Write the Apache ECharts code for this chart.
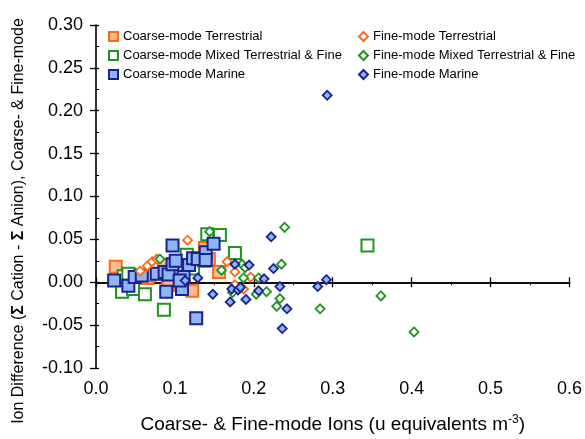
<!DOCTYPE html>
<html>
<head>
<meta charset="utf-8">
<script src="https://cdn.jsdelivr.net/npm/echarts@6/dist/echarts.min.js"></script>
<style>
  html, body { margin: 0; padding: 0; background: #fff; }
  #chart { width: 585px; height: 439px; }
</style>
</head>
<body>
<div id="chart"></div>
<script>
// Ion balance: [total ions (u equiv m^-3), cation - anion difference]
const coarseTerrestrial = [
  [0.025, 0.018], [0.065, 0.005], [0.068, 0.008], [0.086, 0.020], [0.091, 0.003],
  [0.092, -0.003], [0.103, 0.017], [0.122, -0.010], [0.138, 0.040], [0.143, 0.027],
  [0.156, 0.012]
];
const coarseMixed = [
  [0.033, -0.011], [0.035, 0.007], [0.041, 0.010], [0.047, -0.008], [0.062, -0.014],
  [0.086, -0.032], [0.101, 0.017], [0.115, 0.032], [0.123, 0.016], [0.137, 0.025],
  [0.141, 0.056], [0.157, 0.055], [0.176, 0.034], [0.344, 0.043]
];
const coarseMarine = [
  [0.023, 0.002], [0.041, -0.004], [0.049, 0.006], [0.058, 0.008], [0.077, 0.010],
  [0.087, 0.012], [0.092, 0.009], [0.089, -0.011], [0.097, 0.043], [0.097, 0.021],
  [0.101, 0.025], [0.109, -0.008], [0.111, 0.006], [0.106, 0.002], [0.118, 0.020],
  [0.123, 0.028], [0.129, 0.027], [0.139, 0.035], [0.149, 0.045], [0.127, -0.042],
  [0.139, 0.026]
];
const fineTerrestrial = [
  [0.056, 0.013], [0.065, 0.019], [0.071, 0.024], [0.077, 0.027], [0.116, 0.049],
  [0.166, 0.024], [0.176, 0.012], [0.176, -0.003], [0.187, -0.008], [0.196, 0.006]
];
const fineMixed = [
  [0.081, 0.027], [0.144, 0.059], [0.159, 0.014], [0.185, 0.021], [0.189, 0.017],
  [0.187, 0.005], [0.206, 0.005], [0.173, -0.012], [0.203, -0.014], [0.216, -0.011],
  [0.235, 0.021], [0.239, 0.064], [0.233, -0.019], [0.229, -0.028], [0.284, -0.031],
  [0.361, -0.016], [0.403, -0.058]
];
const fineMarine = [
  [0.113, 0.002], [0.129, 0.005], [0.148, -0.014], [0.170, -0.023], [0.176, 0.021],
  [0.194, 0.020], [0.172, -0.008], [0.180, -0.009], [0.183, -0.006], [0.190, -0.020],
  [0.206, -0.010], [0.213, 0.004], [0.222, 0.053], [0.225, 0.016], [0.233, -0.005],
  [0.242, -0.031], [0.236, -0.054], [0.281, -0.005], [0.292, 0.003], [0.293, 0.218]
];

const coarseNames = ['Coarse-mode Terrestrial', 'Coarse-mode Mixed Terrestrial & Fine', 'Coarse-mode Marine'];
const fineNames = ['Fine-mode Terrestrial', 'Fine-mode Mixed Terrestrial & Fine', 'Fine-mode Marine'];

const FONT = '"Liberation Sans", Arial, sans-serif';
const ORANGE = '#FF6A14', ORANGE_FILL = '#FFBA8C';
const GREEN = '#1E941E';
const NAVY = '#1C2090', BLUE_FILL = '#8DB6F2';

const xRange = { type: 'value', min: 0, max: 0.6, interval: 0.1 };
const yRange = { type: 'value', min: -0.1, max: 0.3, interval: 0.05 };

function square(name, data, fill, border) {
  return {
    name, type: 'scatter', data, symbol: 'rect', symbolSize: 12,
    itemStyle: { color: fill, borderColor: border, borderWidth: 2, opacity: 1 }
  };
}
function diamond(name, data, fill, border) {
  return {
    name, type: 'scatter', data, symbol: 'diamond', symbolSize: 9,
    itemStyle: { color: fill, borderColor: border, borderWidth: 1.8, opacity: 1 }
  };
}

const chart = echarts.init(document.getElementById('chart'));
chart.setOption({
  animation: false,
  backgroundColor: '#fff',
  grid: { left: 96, right: 15, top: 25, bottom: 68 },
  legend: [
    {
      data: coarseNames, left: 108, top: 30, orient: 'vertical', padding: 0,
      itemGap: 6, itemWidth: 9, itemHeight: 9,
      textStyle: { fontSize: 13, fontFamily: FONT, color: '#000' }
    },
    {
      data: fineNames, left: 358, top: 30, orient: 'vertical', padding: 0,
      itemGap: 6, itemWidth: 9, itemHeight: 9,
      textStyle: { fontSize: 13, fontFamily: FONT, color: '#000' }
    }
  ],
  xAxis: [
    // tick labels and title along the bottom
    Object.assign({}, xRange, {
      position: 'bottom',
      axisLine: { show: false, onZero: false },
      axisTick: { show: false },
      splitLine: { show: false },
      axisLabel: { fontSize: 18, fontFamily: FONT, color: '#000', margin: 12,
                   formatter: v => v.toFixed(1) },
      name: 'Coarse- & Fine-mode Ions (u equivalents m{sup|-3})',
      nameLocation: 'middle', nameGap: 46,
      nameTextStyle: {
        fontSize: 19, fontFamily: FONT, color: '#000',
        rich: { sup: { fontSize: 12, fontFamily: FONT, color: '#000', verticalAlign: 'bottom', padding: [0, 0, 9, 0] } }
      }
    }),
    // zero line with downward ticks
    Object.assign({}, xRange, {
      position: 'bottom',
      axisLine: { show: true, onZero: true, onZeroAxisIndex: 0, lineStyle: { color: '#000', width: 1.6 } },
      axisTick: { show: true, length: 5, lineStyle: { color: '#000', width: 1.3 } },
      minorTick: { show: true, splitNumber: 2, length: 3, lineStyle: { color: '#000', width: 1 } },
      axisLabel: { show: false },
      splitLine: { show: false }
    }),
    // upward half of the major ticks
    Object.assign({}, xRange, {
      position: 'bottom',
      axisLine: { show: true, onZero: true, onZeroAxisIndex: 0, lineStyle: { color: '#000', width: 1.6 } },
      axisTick: { show: true, inside: true, length: 5, lineStyle: { color: '#000', width: 1.3 } },
      axisLabel: { show: false },
      splitLine: { show: false }
    })
  ],
  yAxis: [
    Object.assign({}, yRange, {
      position: 'left',
      axisLine: { show: true, onZero: false, lineStyle: { color: '#000', width: 1.6 } },
      axisTick: { show: true, length: 6, lineStyle: { color: '#000', width: 1.3 } },
      axisLabel: { fontSize: 18, fontFamily: FONT, color: '#000', margin: 13,
                   formatter: v => v.toFixed(2) },
      splitLine: { show: false }
    }),
    // inner ticks plus half-step minor ticks on the same left edge
    Object.assign({}, yRange, {
      position: 'left',
      axisLine: { show: false, onZero: false },
      axisTick: { show: true, inside: true, length: 3, lineStyle: { color: '#000', width: 1.3 } },
      minorTick: { show: true, splitNumber: 2, length: 3, lineStyle: { color: '#000', width: 1 } },
      axisLabel: { show: false },
      splitLine: { show: false }
    })
  ],
  graphic: [{
    type: 'text', x: 19, y: 221, rotation: Math.PI / 2,
    style: {
      text: 'Ion Difference ({s|Σ} Cation - {s|Σ} Anion), Coarse- & Fine-mode',
      fontSize: 16, fontFamily: FONT, fill: '#000', align: 'center', verticalAlign: 'middle',
      rich: { s: { fontSize: 16, fontFamily: FONT, fontWeight: 'bold' } }
    }
  }],
  series: [
    square(coarseNames[0], coarseTerrestrial, ORANGE_FILL, ORANGE),
    square(coarseNames[1], coarseMixed, '#fff', GREEN),
    square(coarseNames[2], coarseMarine, BLUE_FILL, NAVY),
    diamond(fineNames[0], fineTerrestrial, '#fff', ORANGE),
    diamond(fineNames[1], fineMixed, '#fff', GREEN),
    diamond(fineNames[2], fineMarine, BLUE_FILL, NAVY)
  ]
});
</script>
</body>
</html>
